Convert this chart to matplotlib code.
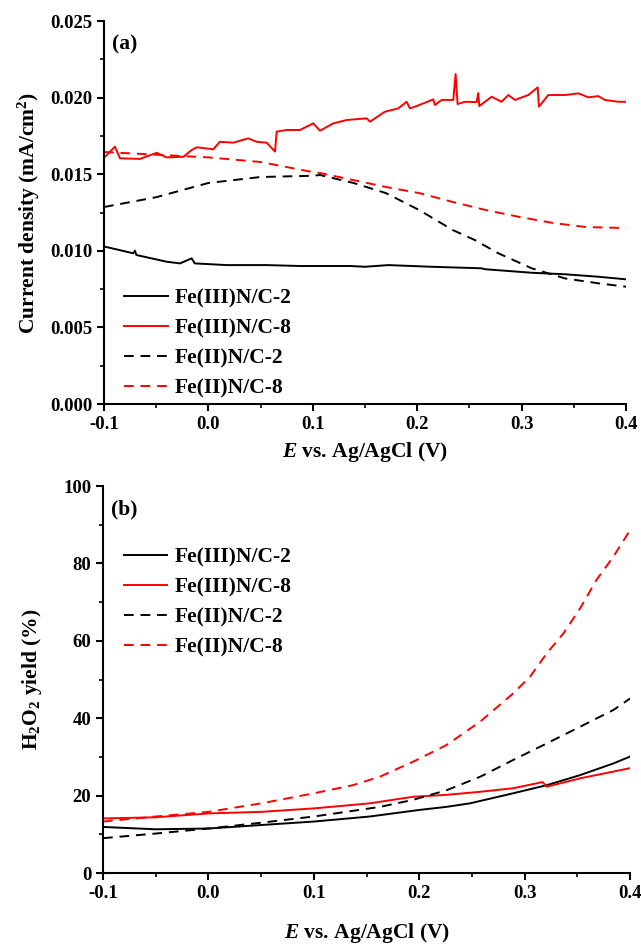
import matplotlib
matplotlib.use("Agg")
import matplotlib.pyplot as plt
from matplotlib.ticker import MultipleLocator, FormatStrFormatter

plt.rcParams['font.family'] = ['Liberation Serif', 'DejaVu Serif']
plt.rcParams['font.weight'] = 'bold'
plt.rcParams['mathtext.fontset'] = 'custom'
plt.rcParams['mathtext.rm'] = 'Liberation Serif:bold'
plt.rcParams['mathtext.bf'] = 'Liberation Serif:bold'
plt.rcParams['mathtext.it'] = 'Liberation Serif:bold:italic'

labels = ['Fe(III)N/C-2', 'Fe(III)N/C-8', 'Fe(II)N/C-2', 'Fe(II)N/C-8']

# ---------- Panel (a): current density (mA/cm2) ----------
a_fe3_2_E = [-0.099, -0.0719, -0.0703, -0.069, -0.04, -0.0272, -0.016, -0.013, 0.0175, 0.0558,
             0.0877, 0.1356, 0.15, 0.1723, 0.2138, 0.2617, 0.2649, 0.3097, 0.3416, 0.3735, 0.4]
a_fe3_2 = [0.01027, 0.00984, 0.01001, 0.00973, 0.00929, 0.00918, 0.00951, 0.00918, 0.00907, 0.00907,
           0.00901, 0.00901, 0.00896, 0.00907, 0.00896, 0.00886, 0.00880, 0.00857, 0.00847, 0.00831, 0.00814]

a_fe3_8_E = [-0.099, -0.0895, -0.0847, -0.0655, -0.0495, -0.04, -0.024, -0.016, -0.0112, 0.0047,
             0.011, 0.0239, 0.0382, 0.0462, 0.0558, 0.0638, 0.0654, 0.075, 0.0877, 0.1005,
             0.1069, 0.1196, 0.1325, 0.1516, 0.1548, 0.169, 0.1819, 0.1899, 0.193, 0.1979,
             0.2075, 0.2154, 0.217, 0.2234, 0.2346, 0.2368, 0.2387, 0.2458, 0.2569, 0.2585,
             0.2595, 0.2713, 0.2808, 0.2873, 0.2937, 0.3064, 0.3154, 0.3166, 0.3255, 0.3416,
             0.3544, 0.364, 0.3735, 0.3799, 0.3926, 0.4]
a_fe3_8 = [0.01614, 0.0168, 0.01604, 0.0160, 0.01640, 0.0161, 0.01614, 0.01658, 0.01676, 0.01663,
           0.01712, 0.01706, 0.01734, 0.01712, 0.01706, 0.01648, 0.01778, 0.01789, 0.01789, 0.01832,
           0.01784, 0.01832, 0.01854, 0.01865, 0.01843, 0.01908, 0.0193, 0.01973, 0.0193, 0.01941,
           0.01967, 0.01989, 0.01952, 0.01985, 0.01985, 0.02154, 0.01958, 0.01973, 0.01971, 0.02030,
           0.01945, 0.02006, 0.01973, 0.02017, 0.01985, 0.02017, 0.02067, 0.01941, 0.02017, 0.02017,
           0.02028, 0.02002, 0.0201, 0.01985, 0.01973, 0.01973]

a_fe2_2_E = [-0.1, -0.05, 0.0, 0.05, 0.1, 0.107, 0.139, 0.17, 0.202, 0.234, 0.2554, 0.2777,
             0.3097, 0.3416, 0.3735, 0.4]
a_fe2_2 = [0.01286, 0.0135, 0.01443, 0.01482, 0.0149, 0.01495, 0.01443, 0.01377, 0.01266, 0.01136,
           0.0107, 0.00984, 0.00886, 0.0082, 0.00788, 0.00766]

a_fe2_8_E = [-0.1, 0.0, 0.05, 0.1, 0.107, 0.17, 0.202, 0.234, 0.266, 0.298, 0.33, 0.362, 0.4]
a_fe2_8 = [0.01645, 0.0161, 0.0158, 0.01514, 0.01508, 0.01417, 0.01377, 0.01319, 0.01266, 0.01221,
           0.01182, 0.01155, 0.01149]

# ---------- Panel (b): H2O2 yield (%) ----------
b_fe3_2_E = [-0.1, -0.05, 0.0, 0.05, 0.1, 0.153, 0.2, 0.226, 0.248, 0.289, 0.321, 0.3526, 0.384, 0.4]
b_fe3_2 = [11.9, 11.3, 11.5, 12.4, 13.3, 14.6, 16.3, 17.1, 18.0, 20.6, 22.7, 25.3, 28.3, 30.1]

b_fe3_8_E = [-0.1, -0.05, 0.0, 0.05, 0.1, 0.153, 0.194, 0.226, 0.258, 0.289, 0.317, 0.321, 0.353, 0.384, 0.4]
b_fe3_8 = [14.1, 14.4, 15.4, 15.8, 16.7, 18.0, 19.7, 20.2, 21.0, 21.9, 23.5, 22.3, 24.5, 26.2, 27.1]

b_fe2_2_E = [-0.1, -0.05, 0.0, 0.05, 0.1, 0.163, 0.194, 0.226, 0.258, 0.289, 0.321, 0.3526, 0.384, 0.4]
b_fe2_2 = [9.0, 10.2, 11.5, 13.0, 14.6, 17.1, 18.9, 21.4, 24.9, 29.2, 33.5, 37.8, 42.1, 45.1]

b_fe2_8_E = [-0.1, -0.05, 0.0, 0.05, 0.1, 0.137, 0.1628, 0.1944, 0.226, 0.2577, 0.289, 0.305, 0.321,
             0.3367, 0.3526, 0.368, 0.384, 0.4]
b_fe2_8 = [13.3, 14.6, 15.8, 18.0, 20.6, 22.7, 24.9, 28.8, 33.1, 39.1, 46.4, 50.7, 56.8,
           61.9, 68.4, 75.7, 81.7, 88.6]

fig = plt.figure(figsize=(6.41, 9.48), dpi=100)
ax1 = fig.add_axes([0.1622, 0.5738, 0.8144, 0.4040])
ax2 = fig.add_axes([0.1607, 0.0791, 0.8223, 0.4082])

lw = 1.4
dash = (5, 3.5)
tick_fs = 13.5
label_fs = 15.5

def style(ax):
    for s in ['top', 'right']:
        ax.spines[s].set_visible(False)
    for s in ['left', 'bottom']:
        ax.spines[s].set_linewidth(1.5)
    ax.tick_params(which='major', direction='out', length=5, width=1.5, labelsize=tick_fs)
    ax.tick_params(which='minor', direction='out', length=3, width=1.2)
    ax.set_xlim(-0.1, 0.4)
    ax.xaxis.set_major_locator(MultipleLocator(0.1))
    ax.xaxis.set_minor_locator(MultipleLocator(0.05))
    ax.xaxis.set_major_formatter(FormatStrFormatter('%.1f'))
    for t in ax.get_xticklabels() + ax.get_yticklabels():
        t.set_fontweight('bold')

leg_kw = dict(frameon=False, prop={'size': label_fs, 'weight': 'bold'}, handlelength=2.0,
              handletextpad=0.35, labelspacing=0.46, borderpad=0.2, loc='upper left')

# Panel (a)
ax1.plot(a_fe3_2_E, a_fe3_2, color='black', lw=lw, label=labels[0])
ax1.plot(a_fe3_8_E, a_fe3_8, color='#ff0000', lw=lw, label=labels[1])
ax1.plot(a_fe2_2_E, a_fe2_2, color='black', lw=lw, ls=(0, dash), label=labels[2])
ax1.plot(a_fe2_8_E, a_fe2_8, color='#ff0000', lw=lw, ls=(0, dash), label=labels[3])
ax1.set_ylim(0, 0.025)
ax1.yaxis.set_major_locator(MultipleLocator(0.005))
ax1.yaxis.set_minor_locator(MultipleLocator(0.0025))
ax1.yaxis.set_major_formatter(FormatStrFormatter('%.3f'))
ax1.set_xlabel(r'$\mathit{E}$ vs. Ag/AgCl (V)', fontsize=label_fs, fontweight='bold', labelpad=5)
ax1.set_ylabel(r'Current density (mA/cm$^{2}$)', fontsize=label_fs, fontweight='bold', labelpad=6)
ax1.text(0.015, 0.965, '(a)', transform=ax1.transAxes, fontsize=15.5, fontweight='bold', va='top')
ax1.legend(bbox_to_anchor=(0.0104, 0.342), **leg_kw)
style(ax1)

# Panel (b)
ax2.plot(b_fe3_2_E, b_fe3_2, color='black', lw=lw, label=labels[0])
ax2.plot(b_fe3_8_E, b_fe3_8, color='#ff0000', lw=lw, label=labels[1])
ax2.plot(b_fe2_2_E, b_fe2_2, color='black', lw=lw, ls=(0, dash), label=labels[2])
ax2.plot(b_fe2_8_E, b_fe2_8, color='#ff0000', lw=lw, ls=(0, dash), label=labels[3])
ax2.set_ylim(0, 100)
ax2.yaxis.set_major_locator(MultipleLocator(20))
ax2.yaxis.set_minor_locator(MultipleLocator(10))
ax2.set_xlabel(r'$\mathit{E}$ vs. Ag/AgCl (V)', fontsize=label_fs, fontweight='bold', labelpad=14)
ax2.set_ylabel(r'H$_{2}$O$_{2}$ yield (%)', fontsize=label_fs, fontweight='bold', labelpad=14)
ax2.text(0.015, 0.965, '(b)', transform=ax2.transAxes, fontsize=15.5, fontweight='bold', va='top')
ax2.legend(bbox_to_anchor=(0.0105, 0.881), **leg_kw)
style(ax2)

fig.savefig('out.png', dpi=100)
